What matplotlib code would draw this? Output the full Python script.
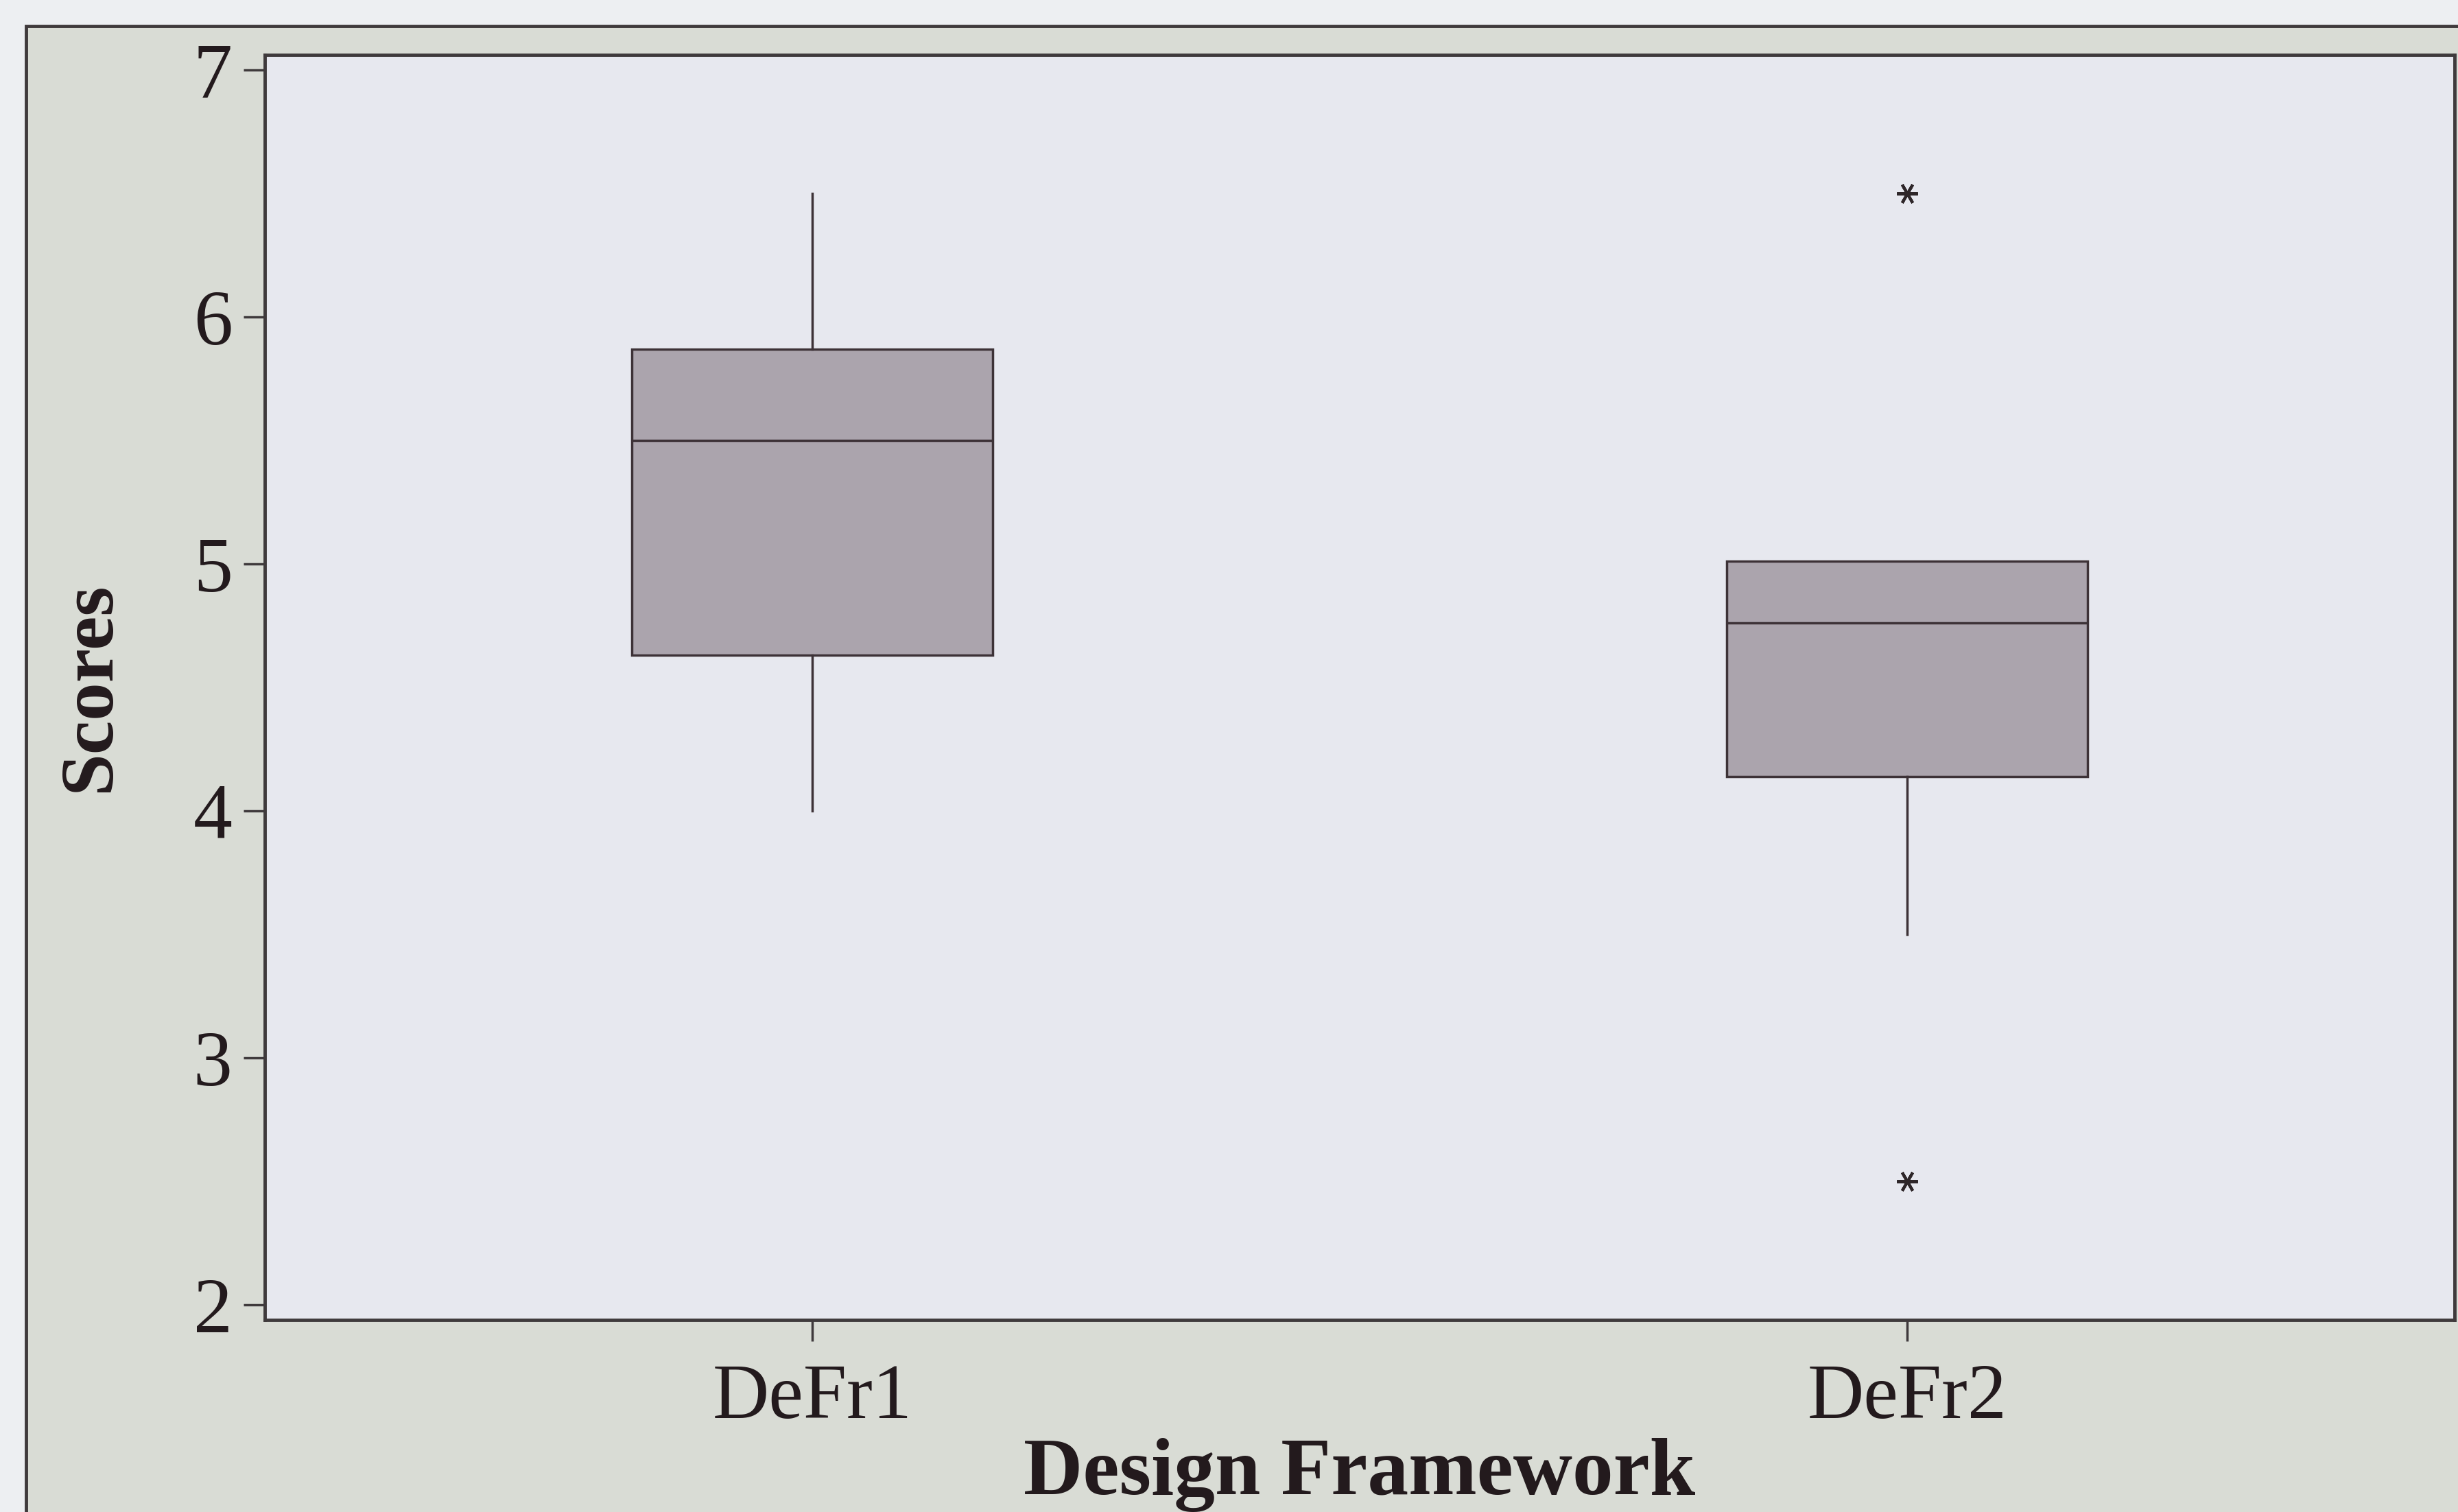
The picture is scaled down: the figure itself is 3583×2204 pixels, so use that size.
#box plot of design framework scores

import matplotlib
matplotlib.use("Agg")
import matplotlib.pyplot as plt
from matplotlib.patches import Rectangle

# data
frameworks = ["DeFr1", "DeFr2"]
whisker_low = [4.0, 3.5]
q1 = [4.63, 4.14]
median = [5.5, 4.76]
q3 = [5.87, 5.01]
whisker_high = [6.5, 5.01]
outliers = [[], [6.5, 2.5]]
yticks = [2, 3, 4, 5, 6, 7]

stats = []
for i in range(len(frameworks)):
    stats.append({"label": frameworks[i],
                  "whislo": whisker_low[i], "q1": q1[i], "med": median[i],
                  "q3": q3[i], "whishi": whisker_high[i],
                  "fliers": outliers[i]})

plt.rcParams["font.family"] = ["Liberation Serif", "DejaVu Serif"]

edge = "#3d3237"
fig = plt.figure(figsize=(35.83, 22.04), dpi=100, facecolor="#edeff2")

# scanned page frame, kept behind the axes
frame = Rectangle((38 / 3583, -0.1), 1.2, 1 - 38 / 2204 + 0.1,
                  transform=fig.transFigure, facecolor="#d9dcd5",
                  edgecolor="#3f3a3c", linewidth=3.5, zorder=-5)
fig.add_artist(frame)

ax = fig.add_axes([0.1077, 0.127, 0.9986 - 0.1077, 0.9637 - 0.127])
ax.set_zorder(1)
ax.set_facecolor("#e7e8ef")

ax.bxp(stats, positions=[1, 2], widths=0.33, patch_artist=True,
       boxprops=dict(facecolor="#aba4ad", edgecolor=edge, linewidth=2.5),
       medianprops=dict(color=edge, linewidth=2.5),
       whiskerprops=dict(color=edge, linewidth=2.5),
       capprops=dict(linewidth=0),
       flierprops=dict(marker=(6, 2, 90), markersize=22, markeredgewidth=3,
                       markeredgecolor="#2e2629", linestyle="none"))

ax.set_xlim(0.5, 2.5)
ax.set_ylim(1.94, 7.06)
ax.set_yticks(yticks)
ax.set_yticklabels([str(t) for t in yticks])

for s in ax.spines.values():
    s.set_color("#3f3a3c")
    s.set_linewidth(3.5)

ax.tick_params(axis="y", length=22, width=2.5, color="#3f3a3c",
               labelsize=82, pad=12, labelcolor="#231a1d")
ax.tick_params(axis="x", length=22, width=2.5, color="#3f3a3c",
               labelsize=82, pad=24, labelcolor="#231a1d")

ax.set_xlabel("Design Framework", fontsize=86, fontweight="bold",
              color="#231a1d", labelpad=3)
ax.set_ylabel("Scores", fontsize=80, fontweight="bold", color="#231a1d",
              labelpad=72)

fig.savefig("out.png", dpi=100, facecolor=fig.get_facecolor())
